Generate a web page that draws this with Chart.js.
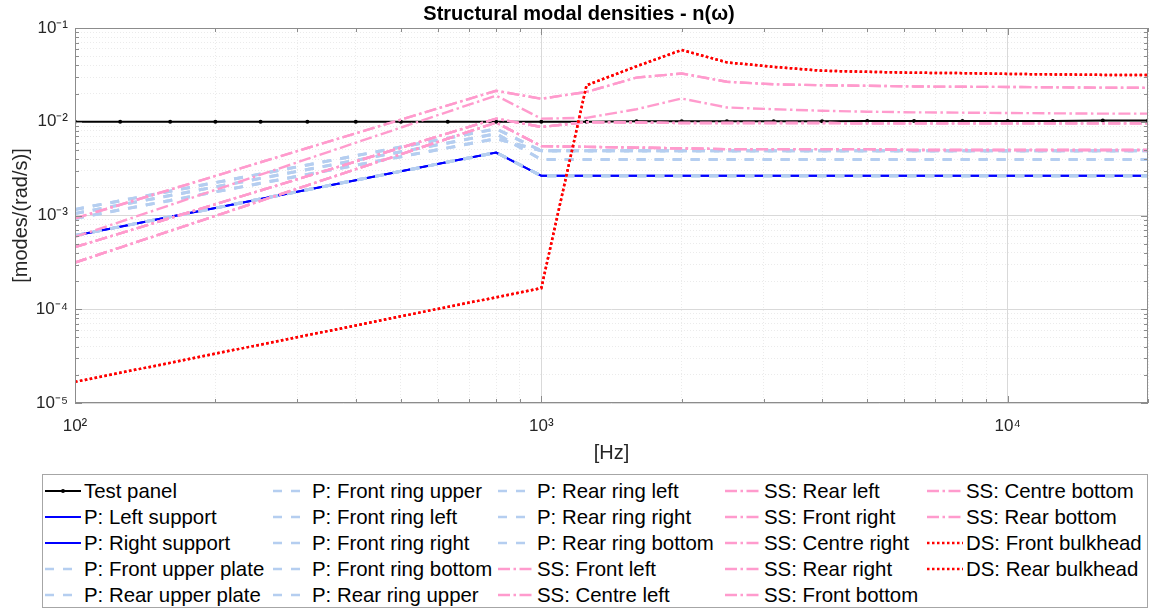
<!DOCTYPE html>
<html>
<head>
<meta charset="utf-8">
<title>Structural modal densities</title>
<script src="https://cdn.jsdelivr.net/npm/chart.js@4.4.1/dist/chart.umd.min.js"></script>
<style>
  html, body { margin: 0; background: #fff; overflow: hidden; font-family: 'Liberation Sans', Arial, sans-serif; }
  #wrap { position: relative; width: 1152px; height: 611px; overflow: hidden; }
  #chartBox { position: absolute; left: 0; top: 0; width: 1161px; height: 470px; }
  #legend {
    position: absolute; left: 42px; top: 474px; width: 1106px; height: 134px;
    box-sizing: border-box; border: 1px solid #a6a6a6; background: #fff;
    padding: 3px 0 0 2px;
    display: grid; grid-auto-flow: column;
    grid-template-rows: repeat(5, 26px);
    grid-template-columns: 228px 225px 227px 202px 1fr;
  }
  .item { display: flex; align-items: center; font-size: 20.4px; color: #000; white-space: nowrap; }
  .item svg { width: 37px; height: 14px; margin-right: 2px; flex: none; }
</style>
</head>
<body>
<div id="wrap">
  <div id="chartBox"><canvas id="mycanvas"></canvas></div>
  <div id="legend"></div>
</div>
<script>
// 1/3 octave band centres [Hz]
var freqHz = [100,125,160,200,250,315,400,500,630,800,1000,1250,1600,2000,2500,3150,4000,5000,6300,8000,10000,12500,16000,20000];

// modal densities [modes/(rad/s)]
var testPanel = [0.0100,0.0100,0.0100,0.0100,0.0100,0.0100,0.0100,0.0100,0.0100,0.0100,0.0100,
                 0.0100,0.0101,0.0101,0.0101,0.0101,0.0101,0.0102,0.0102,0.0102,0.0102,0.0102,0.0103,0.0103];

var pSupport = [6.1e-4,7.6e-4,9.7e-4,1.2e-3,1.5e-3,1.88e-3,2.38e-3,2.96e-3,3.72e-3,4.7e-3,2.65e-3,
                2.65e-3,2.65e-3,2.65e-3,2.65e-3,2.65e-3,2.65e-3,2.65e-3,2.65e-3,2.65e-3,2.65e-3,2.65e-3,2.65e-3,2.65e-3];
var pRingA = [1.16e-3,1.435e-3,1.815e-3,2.245e-3,2.775e-3,3.46e-3,4.34e-3,5.37e-3,6.69e-3,8.4e-3,4.9e-3,
              4.9e-3,4.9e-3,4.9e-3,4.9e-3,4.9e-3,4.9e-3,4.9e-3,4.9e-3,4.9e-3,4.9e-3,4.9e-3,4.9e-3,4.9e-3];
var pRingB = [1.05e-3,1.296e-3,1.635e-3,2.018e-3,2.49e-3,3.095e-3,3.88e-3,4.785e-3,5.945e-3,7.45e-3,3.95e-3,
              3.95e-3,3.95e-3,3.95e-3,3.95e-3,3.95e-3,3.95e-3,3.95e-3,3.95e-3,3.95e-3,3.95e-3,3.95e-3,3.95e-3,3.95e-3];
var pRingC = [9.3e-4,1.148e-3,1.448e-3,1.788e-3,2.206e-3,2.742e-3,3.434e-3,4.238e-3,5.267e-3,6.6e-3,4.9e-3,
              4.9e-3,4.9e-3,4.9e-3,4.9e-3,4.9e-3,4.9e-3,4.9e-3,4.9e-3,4.9e-3,4.9e-3,4.9e-3,4.9e-3,4.9e-3];

var ssA = [9.3e-4,1.302e-3,1.889e-3,2.645e-3,3.70e-3,5.25e-3,7.52e-3,1.053e-2,1.492e-2,2.14e-2,1.76e-2,
           2.08e-2,2.96e-2,3.27e-2,2.67e-2,2.51e-2,2.45e-2,2.42e-2,2.38e-2,2.36e-2,2.35e-2,2.33e-2,2.31e-2,2.30e-2];
var ssB = [5.9e-4,8.56e-4,1.293e-3,1.877e-3,2.724e-3,4.009e-3,5.974e-3,8.67e-3,1.275e-2,1.90e-2,1.08e-2,
           1.10e-2,1.36e-2,1.77e-2,1.42e-2,1.36e-2,1.31e-2,1.28e-2,1.26e-2,1.25e-2,1.24e-2,1.23e-2,1.22e-2,1.22e-2];
var ssC = [4.6e-4,6.455e-4,9.39e-4,1.317e-3,1.848e-3,2.625e-3,3.772e-3,5.29e-3,7.51e-3,1.08e-2,8.8e-3,
           9.9e-3,9.8e-3,9.7e-3,9.7e-3,9.7e-3,9.7e-3,9.6e-3,9.6e-3,9.6e-3,9.6e-3,9.6e-3,9.6e-3,9.6e-3];
var ssD = [3.15e-4,4.555e-4,6.85e-4,9.91e-4,1.432e-3,2.099e-3,3.116e-3,4.507e-3,6.60e-3,9.8e-3,5.5e-3,
           5.4e-3,5.3e-3,5.2e-3,5.1e-3,5.1e-3,5.1e-3,5.1e-3,5.0e-3,5.0e-3,5.0e-3,5.0e-3,5.0e-3,5.0e-3];

var dsBulkhead = [1.68e-5,2.1e-5,2.68e-5,3.36e-5,4.2e-5,5.3e-5,6.7e-5,8.4e-5,1.06e-4,1.34e-4,1.68e-4,
                  2.45e-2,3.9e-2,5.83e-2,4.3e-2,3.85e-2,3.5e-2,3.41e-2,3.33e-2,3.3e-2,3.24e-2,3.2e-2,3.16e-2,3.16e-2];

var seriesNames = ["Test panel","P: Left support","P: Right support","P: Front upper plate","P: Rear upper plate",
  "P: Front ring upper","P: Front ring left","P: Front ring right","P: Front ring bottom","P: Rear ring upper",
  "P: Rear ring left","P: Rear ring right","P: Rear ring bottom","SS: Front left","SS: Centre left",
  "SS: Rear left","SS: Front right","SS: Centre right","SS: Rear right","SS: Front bottom",
  "SS: Centre bottom","SS: Rear bottom","DS: Front bulkhead","DS: Rear bulkhead"];
var seriesData = [testPanel,pSupport,pSupport,pSupport,pSupport,
  pRingA,pRingB,pRingC,pSupport,pRingA,
  pRingB,pRingC,pSupport,ssC,ssA,
  ssC,ssD,ssB,ssD,ssC,
  ssA,ssD,dsBulkhead,dsBulkhead];
var seriesKind = ["test","sup","sup","plate","plate",
  "plate","plate","plate","plate","plate",
  "plate","plate","plate","ss","ss",
  "ss","ss","ss","ss","ss",
  "ss","ss","ds","ds"];

var styles = {
  test:  {color:"#000000", width:2,   dash:[]},
  sup:   {color:"#0000ff", width:2,   dash:[]},
  plate: {color:"rgb(181,206,240)", width:3, dash:[9,9]},
  ss:    {color:"rgb(255,155,205)", width:2.4, dash:[12,3.5,2.5,3.5]},
  ds:    {color:"#ff0000", width:2.5, dash:[2.5,2.5]}
};

var supDigits = {"-":"\u207B","0":"\u2070","1":"\u00B9","2":"\u00B2","3":"\u00B3","4":"\u2074","5":"\u2075"};
function powLabel(v){
  var e = Math.round(Math.log10(v));
  if (Math.abs(v / Math.pow(10, e) - 1) > 1e-6) return "";
  return "10" + String(e).split("").map(function(c){ return supDigits[c]; }).join("");
}
function logTicks(scale){
  var out = [];
  for (var e = Math.floor(Math.log10(scale.min)); e <= Math.ceil(Math.log10(scale.max)); e++){
    for (var m = 1; m < 10; m++){
      var v = m * Math.pow(10, e);
      if (v >= scale.min * 0.999 && v <= scale.max * 1.001) out.push({value: v, major: m === 1});
    }
  }
  scale.ticks = out;
}
function gridColor(ctx){ return ctx.tick && ctx.tick.major ? "#d9d9d9" : "#ebebeb"; }
function gridDash(ctx){ return ctx.tick && ctx.tick.major ? [] : [1,2]; }

// box round the axes with inward ticks, as in the original figure
var boxTicks = {
  id: "boxTicks",
  afterDraw: function(chart){
    var ctx = chart.ctx, a = chart.chartArea, x = chart.scales.x, y = chart.scales.y;
    ctx.save();
    ctx.strokeStyle = "#8c8c8c";
    ctx.lineWidth = 1;
    ctx.strokeRect(Math.round(a.left) + 0.5, Math.round(a.top) + 0.5,
                   Math.round(a.right - a.left) - 1, Math.round(a.bottom - a.top) - 1);
    ctx.beginPath();
    x.ticks.forEach(function(t){
      var px = Math.round(x.getPixelForValue(t.value)) + 0.5, len = t.major ? 7 : 4;
      ctx.moveTo(px, a.bottom); ctx.lineTo(px, a.bottom - len);
      ctx.moveTo(px, a.top); ctx.lineTo(px, a.top + len);
    });
    y.ticks.forEach(function(t){
      var py = Math.round(y.getPixelForValue(t.value)) + 0.5, len = t.major ? 7 : 4;
      ctx.moveTo(a.left, py); ctx.lineTo(a.left + len, py);
      ctx.moveTo(a.right, py); ctx.lineTo(a.right - len, py);
    });
    ctx.stroke();
    ctx.restore();
  }
};

var datasets = seriesNames.map(function(name, i){
  var s = styles[seriesKind[i]];
  return {
    label: name,
    data: freqHz.map(function(f, j){ return {x: f, y: seriesData[i][j]}; }),
    borderColor: s.color,
    backgroundColor: s.color,
    borderWidth: s.width,
    borderDash: s.dash,
    borderCapStyle: "butt",
    fill: false,
    tension: 0,
    pointRadius: seriesKind[i] === "test" ? 2 : 0,
    pointBorderWidth: 0,
    pointBackgroundColor: s.color,
    order: -i
  };
});

var tickFont = {family: "'Liberation Sans', Arial, sans-serif", size: 17};
var ctxEl = document.getElementById("mycanvas");
var LineGraph = new Chart(ctxEl, {
  type: "line",
  data: {datasets: datasets},
  plugins: [boxTicks],
  options: {
    responsive: true,
    maintainAspectRatio: false,
    animation: false,
    layout: {padding: {left: 0, right: 3, top: 0, bottom: 0}},
    plugins: {
      legend: {display: false},
      tooltip: {enabled: false},
      title: {
        display: true,
        text: "Structural modal densities - n(\u03C9)",
        color: "#000",
        font: {family: "'Liberation Sans', Arial, sans-serif", size: 20, weight: "bold", lineHeight: 1.2},
        padding: {top: 2, bottom: 2}
      }
    },
    scales: {
      x: {
        type: "logarithmic",
        position: "bottom",
        min: 100,
        max: 20000,
        afterBuildTicks: logTicks,
        afterFit: function(s){ s.height = 67; },
        ticks: {autoSkip: false, maxRotation: 0, padding: 13, color: "#262626", font: tickFont,
                callback: function(v){ return powLabel(v); }},
        grid: {drawTicks: false, color: gridColor, lineWidth: 1},
        border: {display: false, dash: gridDash},
        title: {display: true, text: "[Hz]", color: "#262626",
                font: {family: "'Liberation Sans', Arial, sans-serif", size: 20}, padding: {top: 0, bottom: 5}}
      },
      y: {
        type: "logarithmic",
        min: 1e-5,
        max: 0.1,
        afterBuildTicks: logTicks,
        afterFit: function(s){ s.width = 75; },
        ticks: {autoSkip: false, padding: 7, color: "#262626", font: tickFont,
                callback: function(v){ return powLabel(v); }},
        grid: {drawTicks: false, color: gridColor, lineWidth: 1},
        border: {display: false, dash: gridDash},
        title: {display: true, text: "[modes/(rad/s)]", color: "#262626",
                font: {family: "'Liberation Sans', Arial, sans-serif", size: 20}, padding: {top: 9, bottom: 0}}
      }
    }
  }
});

// legend laid out column-wise like the original
var legendEl = document.getElementById("legend");
seriesNames.forEach(function(name, i){
  var s = styles[seriesKind[i]];
  var item = document.createElement("div");
  item.className = "item";
  var svg = '<svg viewBox="0 0 37 14"><line x1="0" y1="7" x2="36" y2="7" stroke="' + s.color +
            '" stroke-width="' + Math.min(s.width, 2.5) + '"' +
            (s.dash.length ? ' stroke-dasharray="' + s.dash.join(" ") + '"' : '') + '/>';
  if (seriesKind[i] === "test") svg += '<circle cx="18" cy="7" r="2" fill="#000"/>';
  svg += '</svg>';
  item.innerHTML = svg + '<span>' + name + '</span>';
  legendEl.appendChild(item);
});
</script>
</body>
</html>
